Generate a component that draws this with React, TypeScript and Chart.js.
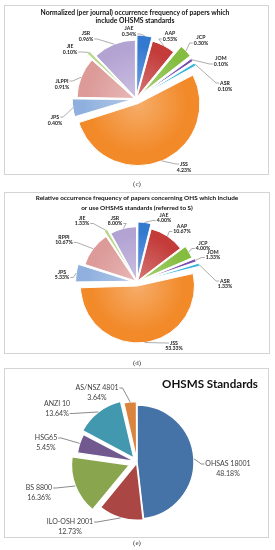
import React, { useEffect, useRef } from 'react';
import { Chart, registerables } from 'chart.js';
Chart.register(...registerables);

// ---- Data: panel (c) ----
const journalsC = ['JAE', 'AAP', 'JCP', 'JOM', 'ASR', 'JSS', 'JPS', 'JLPPI', 'JIE', 'JSR'];
const normalizedFreq = [0.34, 0.53, 0.30, 0.10, 0.10, 4.23, 0.40, 0.91, 0.10, 0.96];
const titleC = ['Normalized (per journal) occurrence frequency of papers which', 'include OHSMS standards'];

// ---- Data: panel (d) ----
const journalsD = ['JAE', 'AAP', 'JCP', 'JOM', 'ASR', 'JSS', 'JPS', 'RPPI', 'JIE', 'JSR'];
const relativeFreq = [4.00, 10.67, 4.00, 1.33, 1.33, 53.33, 5.33, 10.67, 1.33, 8.00];
const titleD = ['Relative occurrence frequency of papers concerning OHS which include', 'or use OHSMS standards (referred to S)'];

// ---- Data: panel (e) ----
const standards = ['OHSAS 18001', 'ILO-OSH 2001', 'BS 8800', 'HSG65', 'ANZI 10', 'AS/NSZ 4801'];
const standardShares = [48.18, 12.73, 16.36, 5.45, 13.64, 3.64];
const titleE = ['OHSMS Standards'];

// ---- Styles / layout ----
const journalColors = ['#3479d0', '#c33c3a', '#84bd40', '#7a50b0', '#35b6dc', '#f28a2a', '#8fb0de', '#dc9a98', '#b8d98e', '#b3a3d3'];
const standardColors = ['#4572a7', '#aa4643', '#89a54e', '#71588f', '#4198af', '#db843d'];

type Cfg = {
  top: number; height: number; center: [number, number]; radius: number;
  box: [number, number, number, number];
  title: string[]; titleX: number; titleY: number[]; titleWidth: number; titleColor: string;
  caption: string; captionY: number;
  labels: string[]; values: number[]; colors: string[]; offsets: number[]; borderWidth: number; gradient: boolean;
  labelPos: [number, number][]; attach: number[]; labelFont: string; labelLH: number; labelColor: string; lineColor: string;
};

const W = 275;

const panels: Cfg[] = [
  {
    top: 0, height: 190, center: [136, 99], radius: 57, box: [4.5, 5.5, 264, 169],
    title: titleC, titleX: 135, titleY: [13, 21], titleWidth: 189, titleColor: '#111',
    caption: '(c)', captionY: 184,
    labels: journalsC, values: normalizedFreq, colors: journalColors,
    offsets: [16, 8, 28, 24, 24, 20, 16, 6, 20, 6], borderWidth: 1, gradient: true,
    labelPos: [[-7, -71], [34, -66], [65, -62], [85, -41], [89, -16], [48, 65], [-81, 18], [-74, -18], [-66, -53], [-50, -66]],
    attach: [1, 1, 1, 1, 0, 0, 0, 0, 1, 1],
    labelFont: 'bold 5.2px Lato', labelLH: 6, labelColor: '#222', lineColor: '#8a8a8a',
  },
  {
    top: 190, height: 177, center: [137, 92], radius: 53, box: [4.5, 2.5, 265, 161],
    title: titleD, titleX: 137, titleY: [8, 18], titleWidth: 203, titleColor: '#111',
    caption: '(d)', captionY: 173,
    labels: journalsD, values: relativeFreq, colors: journalColors,
    offsets: [16, 6, 16, 20, 24, 16, 20, 6, 16, 6], borderWidth: 1, gradient: true,
    labelPos: [[27, -67], [45, -56], [66, -39], [76, -30], [88, -1], [37, 61], [-75, -10], [-73, -45], [-55, -64], [-22, -64]],
    attach: [1, 1, 1, 1, 0, 0, 1, 1, 1, 1],
    labelFont: 'bold 5.2px Lato', labelLH: 5.5, labelColor: '#222', lineColor: '#8a8a8a',
  },
  {
    top: 367, height: 183, center: [137, 95], radius: 57, box: [4.5, 1.5, 264, 169],
    title: titleE, titleX: 210, titleY: [17], titleWidth: 96, titleColor: '#111',
    caption: '(e)', captionY: 176,
    labels: standards, values: standardShares, colors: standardColors,
    offsets: [0, 4, 32, 8, 20, 8], borderWidth: 1.5, gradient: false,
    labelPos: [[91, 2], [-67, 60], [-98, 26], [-91, -24], [-80, -58], [-40, -74]],
    attach: [0, 0, 0, 0, 1, 0],
    labelFont: '7px Lato', labelLH: 9.5, labelColor: '#404040', lineColor: '#595959',
  },
];

function lighten(hex: string, amt: number) {
  const n = parseInt(hex.slice(1), 16);
  const f = (c: number) => Math.round(c + (255 - c) * amt);
  return `rgb(${f((n >> 16) & 255)},${f((n >> 8) & 255)},${f(n & 255)})`;
}

function makeDecor(cfg: Cfg) {
  return {
    id: 'panelDecor',
    beforeDraw(chart: any) {
      const ctx = chart.ctx as CanvasRenderingContext2D;
      ctx.save();
      ctx.strokeStyle = '#d4d4d4';
      ctx.lineWidth = 1;
      const [bx, by, bw, bh] = cfg.box;
      ctx.strokeRect(bx, by, bw, bh);
      ctx.font = 'bold 10px Lato';
      const w10 = ctx.measureText(cfg.title[0]).width;
      const size = (10 * cfg.titleWidth) / w10;
      ctx.font = `bold ${size.toFixed(2)}px Lato`;
      ctx.fillStyle = cfg.titleColor;
      ctx.textAlign = 'center';
      ctx.textBaseline = 'middle';
      cfg.title.forEach((t, i) => ctx.fillText(t, cfg.titleX, cfg.titleY[i]));
      ctx.font = '7px "Liberation Serif"';
      ctx.fillStyle = '#333';
      ctx.fillText(cfg.caption, 137, cfg.captionY);
      ctx.restore();
    },
    afterDatasetsDraw(chart: any) {
      const ctx = chart.ctx as CanvasRenderingContext2D;
      const meta = chart.getDatasetMeta(0);
      ctx.save();
      ctx.font = cfg.labelFont;
      ctx.textAlign = 'center';
      ctx.textBaseline = 'middle';
      meta.data.forEach((arc: any, i: number) => {
        const p = arc.getProps(['x', 'y', 'startAngle', 'endAngle', 'outerRadius', 'circumference'], true);
        const off = (arc.options.offset || 0) / 4;
        const mid = (p.startAngle + p.endAngle) / 2;
        const fix = 1 - Math.sin(Math.min(Math.PI, p.circumference));
        const r = p.outerRadius + off * fix;
        const ax = p.x + Math.cos(mid) * (r + off);
        const ay = p.y + Math.sin(mid) * (r + off);
        const lines = [cfg.labels[i], cfg.values[i].toFixed(2) + '%'];
        const lx = p.x + cfg.labelPos[i][0];
        const ly = p.y + cfg.labelPos[i][1];
        const wLine = ctx.measureText(lines[cfg.attach[i]]).width;
        const side = lx > ax ? -1 : 1;
        const tx = lx + side * (wLine / 2 + 1);
        const tyy = ly + cfg.attach[i] * cfg.labelLH;
        ctx.strokeStyle = cfg.lineColor;
        ctx.lineWidth = 0.7;
        ctx.beginPath();
        ctx.moveTo(tx, tyy);
        ctx.lineTo(tx + side * 3, tyy);
        ctx.lineTo(ax, ay);
        ctx.stroke();
        ctx.fillStyle = cfg.labelColor;
        lines.forEach((t, k) => ctx.fillText(t, lx, ly + k * cfg.labelLH));
      });
      ctx.restore();
    },
  };
}

function PiePanel({ cfg }: { cfg: Cfg }) {
  const ref = useRef<HTMLCanvasElement>(null);
  useEffect(() => {
    const canvas = ref.current!;
    const [cx, cy] = cfg.center;
    const half = 24;
    const bg = cfg.gradient
      ? (c: any) => {
          const chart = c.chart;
          const g = chart.ctx.createRadialGradient(cx, cy, 0, cx, cy, cfg.radius + 8);
          const base = cfg.colors[c.dataIndex];
          g.addColorStop(0, lighten(base, 0.3));
          g.addColorStop(0.75, base);
          g.addColorStop(1, base);
          return g;
        }
      : cfg.colors;
    const chart = new Chart(canvas, {
      type: 'pie',
      data: {
        labels: cfg.labels,
        datasets: [{
          data: cfg.values,
          backgroundColor: bg as any,
          borderColor: '#ffffff',
          borderWidth: cfg.borderWidth,
          offset: cfg.offsets,
          radius: cfg.radius,
          clip: false,
        } as any],
      },
      options: {
        responsive: false,
        animation: false,
        events: [],
        layout: { padding: { left: cx - half, right: W - cx - half, top: cy - half, bottom: cfg.height - cy - half } },
        plugins: { legend: { display: false }, tooltip: { enabled: false }, title: { display: false } },
      } as any,
      plugins: [makeDecor(cfg)],
    });
    return () => chart.destroy();
  }, []);
  return (
    <canvas ref={ref} width={W} height={cfg.height}
      style={{ position: 'absolute', left: 0, top: cfg.top, width: W, height: cfg.height, display: 'block' }} />
  );
}

export default function App() {
  return (
    <div style={{ position: 'absolute', left: 0, top: 0, width: W, height: 550, background: '#fff' }}>
      {panels.map((p, i) => <PiePanel key={i} cfg={p} />)}
    </div>
  );
}
